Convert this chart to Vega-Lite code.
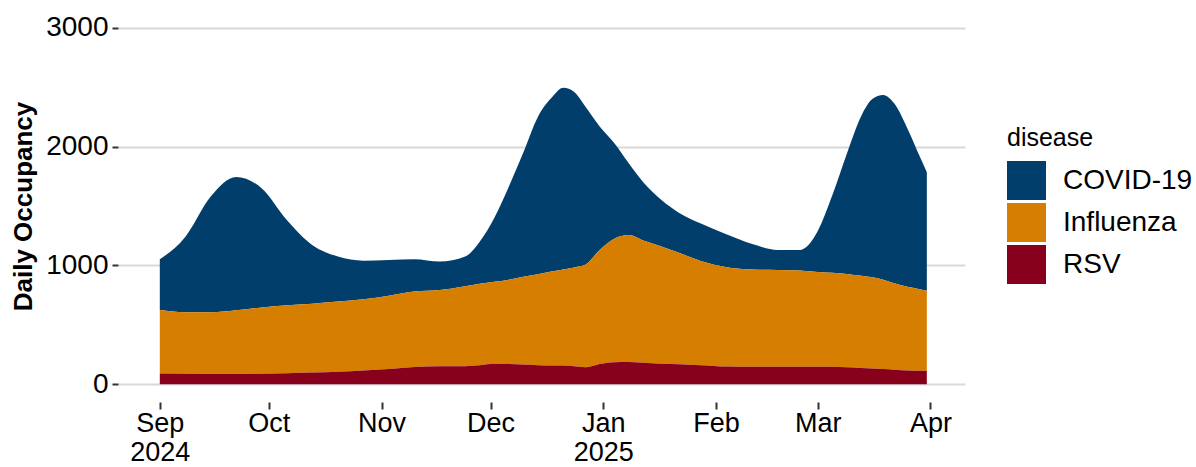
{
  "$schema": "https://vega.github.io/schema/vega-lite/v6.json",
  "autosize": {"type": "none"},
  "padding": {"left": 118, "top": 10, "right": 231, "bottom": 65},
  "width": 847,
  "height": 392,
  "background": "white",
  "config": {"view": {"stroke": null}, "font": "Liberation Sans"},
  "data": {"values": [
    {"date": "2024-09-01", "disease": "COVID-19", "value": 427}, {"date": "2024-09-01", "disease": "Influenza", "value": 534}, {"date": "2024-09-01", "disease": "RSV", "value": 90},
    {"date": "2024-09-08", "disease": "COVID-19", "value": 634}, {"date": "2024-09-08", "disease": "Influenza", "value": 518}, {"date": "2024-09-08", "disease": "RSV", "value": 88},
    {"date": "2024-09-15", "disease": "COVID-19", "value": 974}, {"date": "2024-09-15", "disease": "Influenza", "value": 521}, {"date": "2024-09-15", "disease": "RSV", "value": 85},
    {"date": "2024-09-22", "disease": "COVID-19", "value": 1123}, {"date": "2024-09-22", "disease": "Influenza", "value": 537}, {"date": "2024-09-22", "disease": "RSV", "value": 85},
    {"date": "2024-09-29", "disease": "COVID-19", "value": 1004}, {"date": "2024-09-29", "disease": "Influenza", "value": 558}, {"date": "2024-09-29", "disease": "RSV", "value": 88},
    {"date": "2024-10-06", "disease": "COVID-19", "value": 716}, {"date": "2024-10-06", "disease": "Influenza", "value": 572}, {"date": "2024-10-06", "disease": "RSV", "value": 92},
    {"date": "2024-10-13", "disease": "COVID-19", "value": 492}, {"date": "2024-10-13", "disease": "Influenza", "value": 580}, {"date": "2024-10-13", "disease": "RSV", "value": 98},
    {"date": "2024-10-20", "disease": "COVID-19", "value": 380}, {"date": "2024-10-20", "disease": "Influenza", "value": 591}, {"date": "2024-10-20", "disease": "RSV", "value": 104},
    {"date": "2024-10-27", "disease": "COVID-19", "value": 325}, {"date": "2024-10-27", "disease": "Influenza", "value": 600}, {"date": "2024-10-27", "disease": "RSV", "value": 115},
    {"date": "2024-11-03", "disease": "COVID-19", "value": 300}, {"date": "2024-11-03", "disease": "Influenza", "value": 617}, {"date": "2024-11-03", "disease": "RSV", "value": 128},
    {"date": "2024-11-10", "disease": "COVID-19", "value": 272}, {"date": "2024-11-10", "disease": "Influenza", "value": 635}, {"date": "2024-11-10", "disease": "RSV", "value": 145},
    {"date": "2024-11-17", "disease": "COVID-19", "value": 240}, {"date": "2024-11-17", "disease": "Influenza", "value": 642}, {"date": "2024-11-17", "disease": "RSV", "value": 150},
    {"date": "2024-11-24", "disease": "COVID-19", "value": 250}, {"date": "2024-11-24", "disease": "Influenza", "value": 673}, {"date": "2024-11-24", "disease": "RSV", "value": 152},
    {"date": "2024-11-28", "disease": "COVID-19", "value": 355}, {"date": "2024-11-28", "disease": "Influenza", "value": 685}, {"date": "2024-11-28", "disease": "RSV", "value": 160},
    {"date": "2024-12-02", "disease": "COVID-19", "value": 538}, {"date": "2024-12-02", "disease": "Influenza", "value": 690}, {"date": "2024-12-02", "disease": "RSV", "value": 172},
    {"date": "2024-12-06", "disease": "COVID-19", "value": 783}, {"date": "2024-12-06", "disease": "Influenza", "value": 710}, {"date": "2024-12-06", "disease": "RSV", "value": 170},
    {"date": "2024-12-10", "disease": "COVID-19", "value": 1045}, {"date": "2024-12-10", "disease": "Influenza", "value": 740}, {"date": "2024-12-10", "disease": "RSV", "value": 165},
    {"date": "2024-12-14", "disease": "COVID-19", "value": 1325}, {"date": "2024-12-14", "disease": "Influenza", "value": 765}, {"date": "2024-12-14", "disease": "RSV", "value": 160},
    {"date": "2024-12-18", "disease": "COVID-19", "value": 1470}, {"date": "2024-12-18", "disease": "Influenza", "value": 792}, {"date": "2024-12-18", "disease": "RSV", "value": 158},
    {"date": "2024-12-21", "disease": "COVID-19", "value": 1530}, {"date": "2024-12-21", "disease": "Influenza", "value": 807}, {"date": "2024-12-21", "disease": "RSV", "value": 158},
    {"date": "2024-12-24", "disease": "COVID-19", "value": 1477}, {"date": "2024-12-24", "disease": "Influenza", "value": 833}, {"date": "2024-12-24", "disease": "RSV", "value": 150},
    {"date": "2024-12-27", "disease": "COVID-19", "value": 1335}, {"date": "2024-12-27", "disease": "Influenza", "value": 863}, {"date": "2024-12-27", "disease": "RSV", "value": 142},
    {"date": "2024-12-31", "disease": "COVID-19", "value": 1040}, {"date": "2024-12-31", "disease": "Influenza", "value": 960}, {"date": "2024-12-31", "disease": "RSV", "value": 170},
    {"date": "2025-01-04", "disease": "COVID-19", "value": 805}, {"date": "2025-01-04", "disease": "Influenza", "value": 1040}, {"date": "2025-01-04", "disease": "RSV", "value": 185},
    {"date": "2025-01-08", "disease": "COVID-19", "value": 605}, {"date": "2025-01-08", "disease": "Influenza", "value": 1069}, {"date": "2025-01-08", "disease": "RSV", "value": 186},
    {"date": "2025-01-12", "disease": "COVID-19", "value": 490}, {"date": "2025-01-12", "disease": "Influenza", "value": 1030}, {"date": "2025-01-12", "disease": "RSV", "value": 180},
    {"date": "2025-01-17", "disease": "COVID-19", "value": 390}, {"date": "2025-01-17", "disease": "Influenza", "value": 988}, {"date": "2025-01-17", "disease": "RSV", "value": 172},
    {"date": "2025-01-22", "disease": "COVID-19", "value": 335}, {"date": "2025-01-22", "disease": "Influenza", "value": 938}, {"date": "2025-01-22", "disease": "RSV", "value": 167},
    {"date": "2025-01-28", "disease": "COVID-19", "value": 315}, {"date": "2025-01-28", "disease": "Influenza", "value": 875}, {"date": "2025-01-28", "disease": "RSV", "value": 160},
    {"date": "2025-02-04", "disease": "COVID-19", "value": 275}, {"date": "2025-02-04", "disease": "Influenza", "value": 837}, {"date": "2025-02-04", "disease": "RSV", "value": 148},
    {"date": "2025-02-11", "disease": "COVID-19", "value": 215}, {"date": "2025-02-11", "disease": "Influenza", "value": 819}, {"date": "2025-02-11", "disease": "RSV", "value": 146},
    {"date": "2025-02-18", "disease": "COVID-19", "value": 168}, {"date": "2025-02-18", "disease": "Influenza", "value": 816}, {"date": "2025-02-18", "disease": "RSV", "value": 146},
    {"date": "2025-02-24", "disease": "COVID-19", "value": 172}, {"date": "2025-02-24", "disease": "Influenza", "value": 812}, {"date": "2025-02-24", "disease": "RSV", "value": 146},
    {"date": "2025-03-01", "disease": "COVID-19", "value": 345}, {"date": "2025-03-01", "disease": "Influenza", "value": 799}, {"date": "2025-03-01", "disease": "RSV", "value": 146},
    {"date": "2025-03-05", "disease": "COVID-19", "value": 652}, {"date": "2025-03-05", "disease": "Influenza", "value": 792}, {"date": "2025-03-05", "disease": "RSV", "value": 146},
    {"date": "2025-03-09", "disease": "COVID-19", "value": 1012}, {"date": "2025-03-09", "disease": "Influenza", "value": 786}, {"date": "2025-03-09", "disease": "RSV", "value": 142},
    {"date": "2025-03-13", "disease": "COVID-19", "value": 1348}, {"date": "2025-03-13", "disease": "Influenza", "value": 775}, {"date": "2025-03-13", "disease": "RSV", "value": 137},
    {"date": "2025-03-16", "disease": "COVID-19", "value": 1500}, {"date": "2025-03-16", "disease": "Influenza", "value": 767}, {"date": "2025-03-16", "disease": "RSV", "value": 133},
    {"date": "2025-03-19", "disease": "COVID-19", "value": 1555}, {"date": "2025-03-19", "disease": "Influenza", "value": 752}, {"date": "2025-03-19", "disease": "RSV", "value": 128},
    {"date": "2025-03-22", "disease": "COVID-19", "value": 1515}, {"date": "2025-03-22", "disease": "Influenza", "value": 728}, {"date": "2025-03-22", "disease": "RSV", "value": 122},
    {"date": "2025-03-26", "disease": "COVID-19", "value": 1312}, {"date": "2025-03-26", "disease": "Influenza", "value": 702}, {"date": "2025-03-26", "disease": "RSV", "value": 116},
    {"date": "2025-03-29", "disease": "COVID-19", "value": 1120}, {"date": "2025-03-29", "disease": "Influenza", "value": 687}, {"date": "2025-03-29", "disease": "RSV", "value": 113},
    {"date": "2025-03-31", "disease": "COVID-19", "value": 999}, {"date": "2025-03-31", "disease": "Influenza", "value": 674}, {"date": "2025-03-31", "disease": "RSV", "value": 112}
  ]},
  "mark": {"type": "area", "interpolate": "monotone"},
  "encoding": {
    "x": {
      "field": "date", "type": "temporal",
      "scale": {"type": "utc", "domain": [{"year": 2024, "month": 8, "date": 20, "hours": 12, "utc": true}, {"year": 2025, "month": 4, "date": 10, "hours": 12, "utc": true}]},
      "axis": {
        "title": null, "grid": false, "domain": false,
        "values": [
          {"year": 2024, "month": 9, "date": 1, "utc": true},
          {"year": 2024, "month": 10, "date": 1, "utc": true},
          {"year": 2024, "month": 11, "date": 1, "utc": true},
          {"year": 2024, "month": 12, "date": 1, "utc": true},
          {"year": 2025, "month": 1, "date": 1, "utc": true},
          {"year": 2025, "month": 2, "date": 1, "utc": true},
          {"year": 2025, "month": 3, "date": 1, "utc": true},
          {"year": 2025, "month": 4, "date": 1, "utc": true}
        ],
        "labelExpr": "(utcmonth(datum.value) == 8 || utcmonth(datum.value) == 0) ? [utcFormat(datum.value, '%b'), utcFormat(datum.value, '%Y')] : utcFormat(datum.value, '%b')",
        "labelFontSize": 27, "labelColor": "#000000", "labelLineHeight": 29,
        "labelPadding": 1, "labelFlush": false, "labelOverlap": false,
        "tickColor": "#333333", "tickSize": 7, "tickWidth": 2
      }
    },
    "y": {
      "field": "value", "type": "quantitative", "stack": "zero",
      "scale": {"domain": [-150, 3150], "nice": false, "zero": false},
      "axis": {
        "title": "Daily Occupancy", "titleFontSize": 26, "titleFontWeight": "bold", "titleColor": "#000000", "titlePadding": 9,
        "values": [0, 1000, 2000, 3000], "format": "d",
        "domain": false, "grid": true, "gridColor": "#d9d9d9", "gridWidth": 2,
        "labelFontSize": 28, "labelColor": "#000000", "labelPadding": 4,
        "tickColor": "#333333", "tickSize": 6, "tickWidth": 2
      }
    },
    "color": {
      "field": "disease", "type": "nominal",
      "scale": {"domain": ["COVID-19", "Influenza", "RSV"], "range": ["#023e6b", "#d57e00", "#87001c"]},
      "legend": {
        "title": "disease", "orient": "none", "legendX": 889, "legendY": 116,
        "titleFontSize": 25, "titleFontWeight": "normal", "titleColor": "#000000", "titlePadding": 10,
        "labelFontSize": 28, "labelColor": "#000000", "labelOffset": 17,
        "symbolType": "square", "symbolSize": 1521, "symbolStrokeWidth": 0, "symbolOpacity": 1,
        "rowPadding": 3
      }
    },
    "order": {"field": "disease", "sort": "descending"}
  }
}
